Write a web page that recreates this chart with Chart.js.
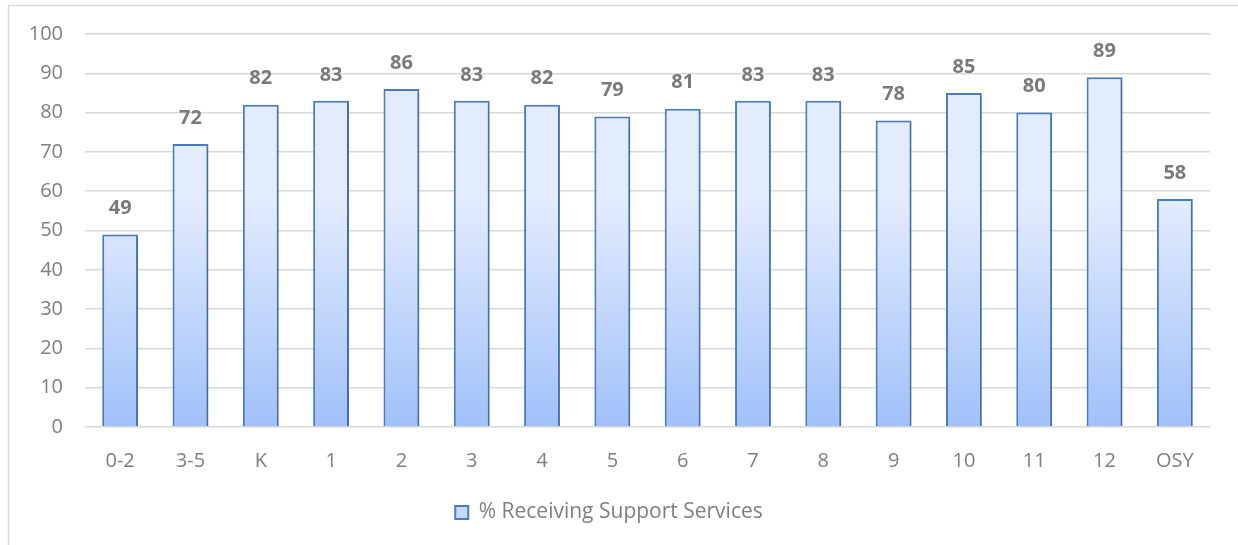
<!DOCTYPE html>
<html>
<head>
<meta charset="utf-8">
<script src="https://cdn.jsdelivr.net/npm/chart.js@4.4.1/dist/chart.umd.min.js"></script>
<style>
  html, body { margin: 0; padding: 0; background: #fff; }
  #wrap { position: relative; width: 1238px; height: 545px; }
</style>
</head>
<body>
<div id="wrap"><canvas id="supportChart" width="1238" height="545"></canvas></div>
<script>
// Chart data
const categories = ['0-2', '3-5', 'K', '1', '2', '3', '4', '5', '6', '7', '8', '9', '10', '11', '12', 'OSY'];
const receivingSupport = [49, 72, 82, 83, 86, 83, 82, 79, 81, 83, 83, 78, 85, 80, 89, 58];
const seriesLabel = '% Receiving Support Services';
const yTicks = [0, 10, 20, 30, 40, 50, 60, 70, 80, 90, 100];

const FONT = "'Open Sans', 'Liberation Sans', sans-serif";
const GRAY = '#7f7f7f';

// outer chart border (like the Excel chart frame)
const frameBorder = {
    id: 'frameBorder',
    beforeDraw(chart) {
        const ctx = chart.ctx;
        ctx.save();
        ctx.strokeStyle = '#d9d9d9';
        ctx.lineWidth = 1.5;
        ctx.strokeRect(8.5, 5.5, chart.width + 20, chart.height + 20);
        ctx.restore();
    }
};

// per-bar vertical gradient + soft shadow
const barGradient = {
    id: 'barGradient',
    beforeDatasetDraw(chart, args) {
        const ctx = chart.ctx;
        args.meta.data.forEach(bar => {
            const g = ctx.createLinearGradient(0, bar.y, 0, bar.base);
            g.addColorStop(0, '#e3ecfd');
            g.addColorStop(1, '#a1c1fa');
            bar.options.backgroundColor = g;
        });
        ctx.save();
        ctx.shadowColor = 'rgba(0,0,0,0.22)';
        ctx.shadowBlur = 3;
        ctx.shadowOffsetX = 1.5;
        ctx.shadowOffsetY = 1;
    },
    afterDatasetDraw(chart) {
        chart.ctx.restore();
    }
};

// value labels above bars
const valueLabels = {
    id: 'valueLabels',
    afterDatasetsDraw(chart) {
        const ctx = chart.ctx;
        ctx.save();
        ctx.font = "bold 20px " + FONT;
        ctx.fillStyle = '#7a7a7a';
        ctx.textAlign = 'center';
        ctx.textBaseline = 'middle';
        chart.getDatasetMeta(0).data.forEach((bar, i) => {
            ctx.fillText(receivingSupport[i], bar.x, bar.y - 26);
        });
        ctx.restore();
    }
};

new Chart(document.getElementById('supportChart'), {
    type: 'bar',
    data: {
        labels: categories,
        datasets: [{
            label: seriesLabel,
            data: receivingSupport,
            backgroundColor: '#c6d9fb',
            borderColor: '#4a7dbd',
            borderWidth: 2,
            categoryPercentage: 1,
            barPercentage: 0.51
        }]
    },
    options: {
        responsive: false,
        animation: false,
        devicePixelRatio: 1,
        layout: { padding: { top: 34, left: 8, right: 28, bottom: 12 } },
        scales: {
            y: {
                min: 0,
                max: 100,
                afterFit: s => { s.width = 77; },
                afterBuildTicks: s => { s.ticks = yTicks.map(v => ({ value: v })); },
                border: { display: false },
                grid: { color: '#d9d9d9', lineWidth: 1.5, drawTicks: false },
                ticks: { color: GRAY, padding: 22, font: { family: FONT, size: 20 } }
            },
            x: {
                border: { display: false },
                grid: { display: false, drawTicks: false },
                ticks: { color: GRAY, padding: 22, font: { family: FONT, size: 20 } }
            }
        },
        plugins: {
            legend: {
                position: 'bottom',
                labels: {
                    color: GRAY,
                    boxWidth: 13,
                    boxHeight: 13,
                    padding: 7,
                    font: { family: FONT, size: 21 }
                }
            },
            tooltip: { enabled: false }
        }
    },
    plugins: [frameBorder, barGradient, valueLabels]
});
</script>
</body>
</html>
